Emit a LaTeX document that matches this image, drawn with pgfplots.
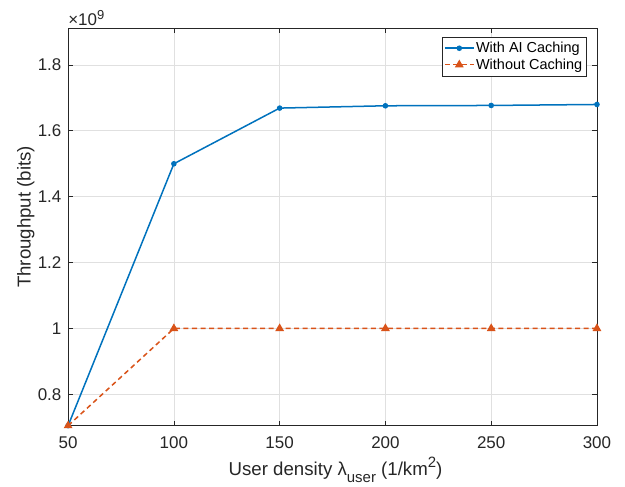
\documentclass[border=0pt]{standalone}
\usepackage{fontspec}
\setmainfont{Liberation Sans}
\usepackage{pgfplots}
\pgfplotsset{compat=1.18}
\definecolor{mblue}{rgb}{0,0.447,0.741}
\definecolor{morange}{rgb}{0.85,0.325,0.098}
\definecolor{axgray}{rgb}{0.15,0.15,0.15}
\definecolor{gridgray}{rgb}{0.88,0.88,0.88}

\begin{document}
\begin{tikzpicture}
\begin{axis}[
    name=ax,
    scale only axis,
    width=528bp, height=397bp,
    xmin=50, xmax=300,
    ymin=0.705e9, ymax=1.912e9,
    xtick={50,100,150,200,250,300},
    ytick={0.8e9,1e9,1.2e9,1.4e9,1.6e9,1.8e9},
    yticklabels={0.8,1,1.2,1.4,1.6,1.8},
    scaled y ticks=false,
    /pgf/number format/assume math mode=true,
    ticklabel style={font=\fontsize{17}{20}\selectfont, text=axgray},
    xticklabel style={anchor=base, yshift=-23bp},
    yticklabel style={anchor=east, inner sep=0pt, xshift=-6.5bp},
    every axis x label/.style={at={([xshift=3bp, yshift=-50bp]axis description cs:0.5,0)},
        anchor=base, font=\fontsize{18.7}{22}\selectfont, text=axgray},
    every axis y label/.style={at={([xshift=-37.5bp, yshift=10bp]axis description cs:0,0.5)},
        anchor=base, rotate=90, font=\fontsize{18.7}{22}\selectfont, text=axgray},
    xlabel={User density λ\raisebox{-7bp}{\fontsize{15}{15}\selectfont user}
        (1/km\raisebox{8bp}{\fontsize{15}{15}\selectfont 2})},
    ylabel={Throughput (bits)},
    axis line style={axgray, line width=0.7bp},
    tick style={axgray, line width=0.7bp},
    tick align=inside,
    major tick length=5bp,
    grid=major,
    grid style={gridgray, line width=0.7bp},
    legend style={at={(rel axis cs:1,1)}, anchor=north east,
        xshift=-11bp, yshift=-9bp,
        draw=axgray, fill=white,
        font=\fontsize{14.5}{17}\selectfont, inner xsep=2bp, inner ysep=3.5bp,
        nodes={inner xsep=1.5bp, inner ysep=1.5bp},
        row sep=1.5bp},
    legend cell align=left,
    legend image code/.code={
        \draw[mark repeat=2, mark phase=2, #1, line width=1.5bp]
        plot coordinates {(0bp,0bp) (14.5bp,0bp) (29bp,0bp)};},
]
\addplot[mblue, line width=1.5bp, mark=*, mark size=2bp,
    mark options={solid, fill=mblue}] coordinates {
    (50, 0.705e9)
    (100, 1.500e9)
    (150, 1.669e9)
    (200, 1.676e9)
    (250, 1.677e9)
    (300, 1.680e9)
};
\addlegendentry{With AI Caching}
\addplot[morange, line width=1.5bp, dash pattern=on 5bp off 3.5bp,
    mark=triangle*, mark size=3.6bp,
    mark options={solid, fill=morange}] coordinates {
    (50, 0.705e9)
    (100, 1.0e9)
    (150, 1.0e9)
    (200, 1.0e9)
    (250, 1.0e9)
    (300, 1.0e9)
};
\addlegendentry{Without Caching}
\end{axis}
\node[anchor=base west, inner sep=0pt, yshift=3bp, text=axgray,
    font=\fontsize{17}{20}\selectfont] at (ax.north west)
    {×10\raisebox{6bp}{\fontsize{13}{13}\selectfont 9}};
\path ([xshift=-68bp, yshift=-58bp]ax.south west)
    rectangle ([xshift=28bp, yshift=28bp]ax.north east);
\end{tikzpicture}
\end{document}
